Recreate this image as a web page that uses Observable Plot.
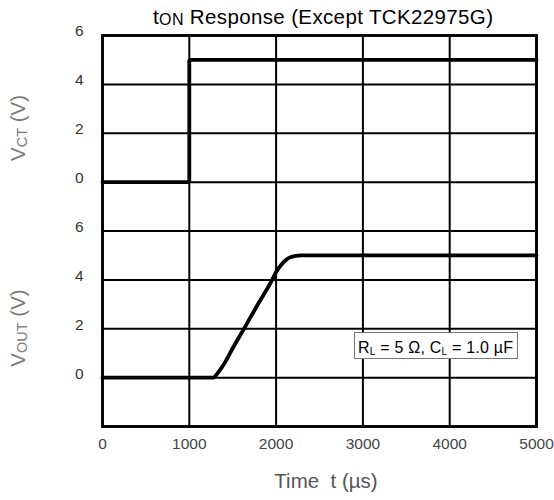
<!DOCTYPE html>
<html>
<head>
<meta charset="utf-8">
<script src="https://cdn.jsdelivr.net/npm/d3@7"></script>
<script src="https://cdn.jsdelivr.net/npm/@observablehq/plot@0.6"></script>
<style>
  html, body { margin: 0; padding: 0; background: #fff; }
  #chart { width: 554px; height: 500px; }
</style>
</head>
<body>
<div id="chart"></div>
<script>
// ---- data ----
const vctTime  = [0, 1000, 1000, 5000];
const vctValue = [0, 0, 5, 5];

const voutTime  = [0, 1275, 1330, 1400, 1500, 1630, 1790, 1955, 2005, 2060, 2110, 2160, 2210, 2290, 5000];
const voutValue = [0, 0, 0.2, 0.56, 1.2, 2.0, 3.0, 4.0, 4.35, 4.62, 4.8, 4.92, 4.97, 5.0, 5.0];

const xTicks = [0, 1000, 2000, 3000, 4000, 5000];
const vTicks = [0, 2, 4, 6];          // tick labels on each panel
const panelOffset = 8;                // V_CT panel sits 8 units above V_OUT
const yGrid = [-2, 0, 2, 4, 6, 8, 10, 12, 14];

const vct  = vctTime.map((t, i) => ({t, v: vctValue[i]}));
const vout = voutTime.map((t, i) => ({t, v: voutValue[i]}));
const yTickPos = [...vTicks, ...vTicks.map(v => v + panelOffset)];

const FONT = "Liberation Sans, Arial, Helvetica, sans-serif";

const chart = Plot.plot({
  width: 554,
  height: 500,
  marginLeft: 102,
  marginRight: 18,
  marginTop: 35,
  marginBottom: 74,
  style: {fontFamily: FONT, background: "#fff"},
  x: {domain: [0, 5000]},
  y: {domain: [-2, 14]},
  marks: [
    Plot.ruleX(xTicks, {stroke: "#000", strokeWidth: 2}),
    Plot.ruleY(yGrid, {stroke: "#000", strokeWidth: 2}),
    Plot.frame({stroke: "#000", strokeWidth: 2.8}),
    Plot.line(vct, {x: "t", y: d => d.v + panelOffset, stroke: "#000", strokeWidth: 3.8, strokeLinejoin: "miter"}),
    Plot.line(vout, {x: "t", y: "v", stroke: "#000", strokeWidth: 3.8, curve: "monotone-x"}),
    Plot.axisX({ticks: xTicks, tickSize: 0, tickPadding: 11, fontSize: 15.5, fill: "#444", label: null, tickFormat: d => String(d)}),
    Plot.axisY({ticks: yTickPos, tickSize: 0, tickPadding: 19, fontSize: 15.5, fill: "#333", dy: -4, label: null,
                tickFormat: d => String(d >= panelOffset ? d - panelOffset : d)})
  ]
});

document.getElementById("chart").appendChild(chart);

// ---- titles and annotation (text with sub-scripts) ----
const svg = d3.select(chart);
const g = svg.append("g").attr("font-family", FONT);

// title
const title = g.append("text").attr("x", 153).attr("y", 24).attr("text-anchor", "start")
  .attr("font-size", 20.5).attr("fill", "#000")
  .attr("textLength", 340).attr("lengthAdjust", "spacing");
title.append("tspan").text("t");
title.append("tspan").attr("font-size", 16).attr("dy", 1).text("ON");
title.append("tspan").attr("dy", -1).text(" Response (Except TCK22975G)");

// y labels
function yLabel(cy, sub) {
  const t = g.append("text").attr("transform", `translate(25,${cy}) rotate(-90)`)
    .attr("text-anchor", "middle").attr("font-size", 20.5).attr("fill", "#7a7a7a");
  t.append("tspan").text("V");
  t.append("tspan").attr("font-size", 14.5).attr("dy", 1.5).text(sub);
  t.append("tspan").attr("dy", -1.5).text(" (V)");
}
yLabel(128, "CT");
yLabel(328, "OUT");

// x label
g.append("text").attr("x", 326).attr("y", 488).attr("text-anchor", "middle")
  .attr("font-size", 20.5).attr("fill", "#555").attr("xml:space", "preserve")
  .text("Time  t (\u00b5s)");

// annotation box
const ann = g.append("g");
ann.append("rect").attr("x", 354.5).attr("y", 332.5).attr("width", 163).attr("height", 26)
  .attr("fill", "#fff").attr("stroke", "#777").attr("stroke-width", 1);
const at = ann.append("text").attr("x", 358).attr("y", 352.5).attr("text-anchor", "start")
  .attr("font-size", 16).attr("fill", "#000")
  .attr("textLength", 155).attr("lengthAdjust", "spacing");
at.append("tspan").text("R");
at.append("tspan").attr("font-size", 10).attr("dy", 2).text("L");
at.append("tspan").attr("dy", -2).text(" = 5 \u03a9, C");
at.append("tspan").attr("font-size", 10).attr("dy", 2).text("L");
at.append("tspan").attr("dy", -2).text(" = 1.0 \u00b5F");
</script>
</body>
</html>
